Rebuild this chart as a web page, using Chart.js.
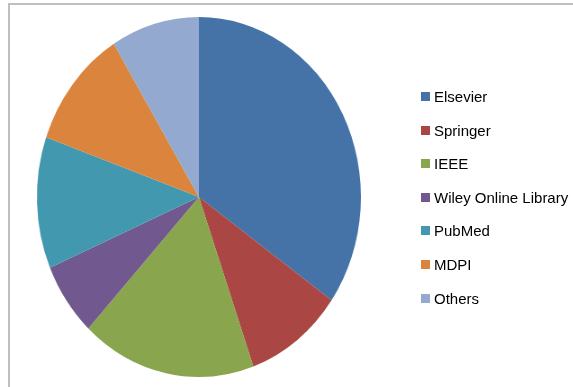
<!DOCTYPE html>
<html>
<head>
<meta charset="utf-8">
<script src="https://cdn.jsdelivr.net/npm/chart.js@4.4.0/dist/chart.umd.min.js"></script>
<style>
    html, body { margin: 0; padding: 0; background: #fff; }
    #wrap { position: relative; width: 573px; height: 387px; overflow: hidden; }
    #frame {
        position: absolute; left: 8px; top: 3px; right: -10px; bottom: -10px;
        border-top: 2px solid #bfbfbf; border-left: 2px solid #bfbfbf;
    }
    /* the original picture is squeezed sideways, so the pie is an ellipse */
    #pieChart { position: absolute; left: 0; top: 0; transform: scaleX(0.9); transform-origin: 0 0; }
    #legend {
        position: absolute; left: 421px; top: 92px; margin: 0; padding: 0; list-style: none;
        font-family: "Liberation Sans", Arial, sans-serif; font-size: 15px; color: #000;
    }
    #legend li { position: relative; height: 33.6px; }
    #legend li span.box { position: absolute; left: 0; top: 0; width: 9px; height: 9px; }
    #legend li span.txt { position: absolute; left: 13px; top: -4px; white-space: nowrap; }
</style>
</head>
<body>
<div id="wrap">
    <div id="frame"></div>
    <canvas id="pieChart" width="573" height="387"></canvas>
    <ul id="legend"></ul>
</div>
<script>
// publishers share (percent)
var publishers = ['Elsevier', 'Springer', 'IEEE', 'Wiley Online Library', 'PubMed', 'MDPI', 'Others'];
var shares     = [34.7, 9.8, 17.4, 6.6, 11.8, 10.8, 8.8];
var colours    = ['#4572A7', '#AA4643', '#89A54E', '#71588F', '#4198AF', '#DB843D', '#93A9CF'];

// legend, built by hand like the old excel one
var outputData = '';
for (var i = 0; i < publishers.length; i++) {
    outputData += '<li><span class="box" style="background-color:' + colours[i] + ';"></span>' +
                  '<span class="txt">' + publishers[i] + '</span></li>';
}
document.getElementById('legend').innerHTML = outputData;

var ctx = document.getElementById('pieChart').getContext('2d');
new Chart(ctx, {
    type: 'pie',
    data: {
        labels: publishers,
        datasets: [{
            data           : shares,
            backgroundColor: colours,
            borderWidth    : 0,
            hoverOffset    : 0
        }]
    },
    options: {
        responsive: false,
        animation : false,
        layout    : { padding: { left: 41, right: 172, top: 17, bottom: 10 } },
        plugins   : {
            legend : { display: false },
            tooltip: { enabled: false }
        }
    }
});
</script>
</body>
</html>
